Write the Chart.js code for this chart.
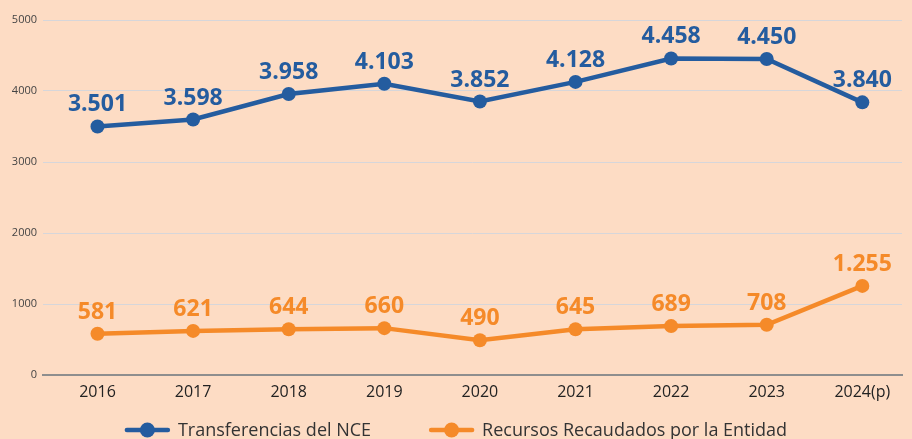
<!DOCTYPE html>
<html>
<head>
<meta charset="utf-8">
<script src="https://cdn.jsdelivr.net/npm/chart.js@4.4.1/dist/chart.umd.min.js"></script>
<style>
  html, body { margin: 0; padding: 0; background: #FDDCC4; overflow: hidden; }
  #chart { display: block; }
</style>
</head>
<body>
<canvas id="chart" width="912" height="439"></canvas>
<script>
const years = ["2016", "2017", "2018", "2019", "2020", "2021", "2022", "2023", "2024(p)"];
const transferencias = [3501, 3598, 3958, 4103, 3852, 4128, 4458, 4450, 3840];
const recursos = [581, 621, 644, 660, 490, 645, 689, 708, 1255];
const yTicks = [0, 1000, 2000, 3000, 4000, 5000];

const BLUE = "#245C9F";
const ORANGE = "#F58A29";

Chart.defaults.font.family = "'Open Sans', sans-serif";

// miles con punto: 3501 -> 3.501
function fmt(v) {
  return String(v).replace(/\B(?=(\d{3})+(?!\d))/g, ".");
}

const toPoints = arr => arr.map((v, i) => ({ x: i, y: v }));

// etiquetas de valor sobre cada punto
const valueLabels = {
  id: "valueLabels",
  afterDatasetsDraw(chart) {
    const ctx = chart.ctx;
    ctx.save();
    ctx.font = "bold 23px 'Open Sans'";
    ctx.textAlign = "center";
    ctx.textBaseline = "alphabetic";
    chart.data.datasets.forEach((ds, i) => {
      const meta = chart.getDatasetMeta(i);
      ctx.fillStyle = ds.borderColor;
      meta.data.forEach((pt, j) => {
        ctx.fillText(fmt(ds.data[j].y), pt.x, pt.y - 15);
      });
    });
    ctx.restore();
  }
};

// leyenda abajo: linea + circulo + texto
const bottomLegend = {
  id: "bottomLegend",
  afterDraw(chart) {
    const ctx = chart.ctx;
    ctx.save();
    ctx.font = "18px 'Open Sans'";
    const sym = 45, gap = 8, between = 58;
    const items = chart.data.datasets.map(ds => ({
      label: ds.label,
      color: ds.borderColor,
      w: ctx.measureText(ds.label).width
    }));
    const total = items.reduce((s, it) => s + sym + gap + it.w, 0) + between * (items.length - 1);
    let x = (chart.width - total) / 2;
    const y = 430;
    items.forEach(it => {
      ctx.strokeStyle = it.color;
      ctx.lineWidth = 4.5;
      ctx.lineCap = "round";
      ctx.beginPath();
      ctx.moveTo(x + 2, y);
      ctx.lineTo(x + sym - 2, y);
      ctx.stroke();
      ctx.fillStyle = it.color;
      ctx.beginPath();
      ctx.arc(x + sym / 2, y, 7.5, 0, Math.PI * 2);
      ctx.fill();
      ctx.fillStyle = "#333";
      ctx.textBaseline = "alphabetic";
      ctx.fillText(it.label, x + sym + gap, 436);
      x += sym + gap + it.w + between;
    });
    ctx.restore();
  }
};

new Chart(document.getElementById("chart"), {
  type: "line",
  data: {
    datasets: [
      {
        label: "Transferencias del NCE",
        data: toPoints(transferencias),
        borderColor: BLUE,
        backgroundColor: BLUE,
        borderWidth: 4.5,
        pointRadius: 7,
        pointBorderWidth: 0,
        tension: 0
      },
      {
        label: "Recursos Recaudados por la Entidad",
        data: toPoints(recursos),
        borderColor: ORANGE,
        backgroundColor: ORANGE,
        borderWidth: 4.5,
        pointRadius: 7,
        pointBorderWidth: 0,
        tension: 0
      }
    ]
  },
  options: {
    responsive: false,
    animation: false,
    layout: { padding: { top: 20, right: 10, left: 0, bottom: 0 } },
    plugins: {
      legend: { display: false },
      tooltip: { enabled: false }
    },
    scales: {
      x: {
        type: "linear",
        min: -0.57,
        max: 8.415,
        grid: { display: false, drawTicks: false },
        border: { display: true, color: "#8E8E8E", width: 2 },
        afterFit(scale) { scale.height = 64; },
        afterBuildTicks(scale) {
          scale.ticks = years.map((_, i) => ({ value: i }));
        },
        ticks: {
          autoSkip: false,
          maxRotation: 0,
          padding: 8,
          color: "#222",
          font: { size: 16 },
          callback: v => years[v]
        }
      },
      y: {
        min: 0,
        max: 5000,
        afterFit(scale) { scale.width = 43; },
        afterBuildTicks(scale) {
          scale.ticks = yTicks.map(v => ({ value: v }));
        },
        grid: { color: "#D6D6DA", lineWidth: 1, drawTicks: false },
        border: { display: false },
        ticks: {
          padding: 6,
          color: "#444",
          font: { size: 11 },
          callback: v => String(v)
        }
      }
    }
  },
  plugins: [valueLabels, bottomLegend]
});
</script>
</body>
</html>
